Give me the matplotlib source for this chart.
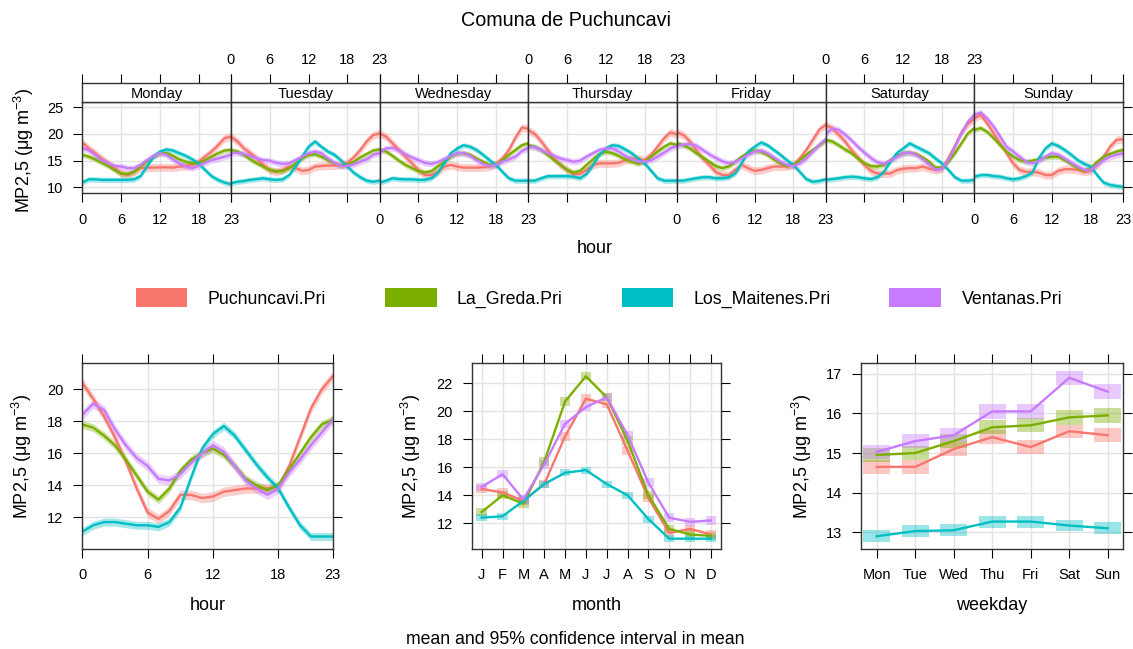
import numpy as np
import matplotlib.pyplot as plt
from matplotlib.patches import Patch

plt.rcParams['font.family'] = ['Liberation Sans', 'DejaVu Sans']
plt.rcParams['mathtext.fontset'] = 'custom'
plt.rcParams['mathtext.rm'] = 'Liberation Sans'
plt.rcParams['mathtext.it'] = 'Liberation Sans:italic'

sites = ["Puchuncavi.Pri", "La_Greda.Pri", "Los_Maitenes.Pri", "Ventanas.Pri"]
colors = ["#F8766D", "#7CAE00", "#00BFC4", "#C77CFF"]
days = ["Monday", "Tuesday", "Wednesday", "Thursday", "Friday", "Saturday", "Sunday"]
hours = np.arange(24)

# hour x weekday means, one row per day (Mon..Sun)
week_puchuncavi = [
    [18.4, 17.3, 16.4, 15.4, 14.5, 13.6, 12.6, 12.3, 12.9, 13.6, 13.7, 13.7, 13.75, 13.75, 13.7, 13.9, 14.0, 14.2, 14.8, 15.75, 16.7, 17.9, 19.2, 19.5],
    [19.5, 18.6, 17.3, 16.4, 15.4, 14.2, 13.25, 12.9, 13.25, 13.9, 13.6, 13.1, 13.25, 13.9, 14.0, 14.1, 14.1, 14.2, 14.6, 15.6, 17.0, 18.6, 19.8, 20.1],
    [20.1, 19.5, 18.25, 17.0, 15.75, 14.5, 13.25, 12.3, 12.3, 12.9, 13.9, 14.2, 13.9, 13.7, 13.7, 13.7, 13.75, 13.9, 14.4, 15.4, 17.0, 19.3, 21.2, 21.0],
    [20.7, 20.0, 18.6, 17.0, 15.4, 14.2, 13.25, 12.5, 12.5, 13.25, 14.2, 14.5, 14.5, 14.5, 14.6, 15.1, 15.4, 15.4, 15.1, 16.1, 17.6, 19.2, 20.3, 19.9],
    [20.3, 19.8, 18.6, 17.0, 15.4, 14.2, 12.9, 12.3, 12.3, 13.25, 14.2, 13.6, 13.1, 13.25, 13.6, 13.9, 13.9, 13.9, 14.2, 15.4, 17.0, 18.9, 20.8, 21.7],
    [21.7, 21.1, 19.9, 18.6, 17.0, 15.6, 14.2, 13.1, 12.6, 12.6, 12.6, 13.2, 13.5, 13.6, 13.6, 13.9, 13.5, 13.25, 13.5, 15.5, 17.8, 20.3, 21.9, 22.9],
    [22.9, 23.6, 22.0, 20.1, 18.25, 16.4, 14.5, 13.25, 12.9, 12.9, 12.75, 12.3, 12.3, 13.1, 13.4, 13.4, 13.25, 12.9, 13.1, 14.2, 15.75, 17.6, 18.9, 19.0],
]
week_lagreda = [
    [16.1, 15.75, 15.25, 14.6, 14.0, 13.25, 12.6, 12.5, 12.9, 13.9, 14.9, 15.75, 16.4, 16.4, 15.9, 15.25, 14.8, 14.5, 14.5, 15.1, 15.75, 16.4, 16.9, 17.0],
    [17.0, 16.7, 16.1, 15.25, 14.5, 13.9, 13.25, 13.05, 13.05, 13.6, 14.5, 15.4, 16.1, 16.2, 15.75, 15.1, 14.5, 14.05, 14.2, 14.8, 15.6, 16.25, 16.9, 17.1],
    [17.1, 16.7, 15.9, 15.0, 14.2, 13.6, 13.05, 12.8, 13.05, 13.9, 14.8, 15.75, 16.4, 16.4, 16.1, 15.4, 14.8, 14.2, 14.2, 15.1, 16.1, 17.0, 17.9, 18.25],
    [17.9, 17.6, 17.0, 16.1, 15.1, 14.2, 13.25, 12.75, 13.1, 14.2, 15.25, 16.25, 16.7, 16.4, 15.9, 15.25, 14.8, 14.4, 14.8, 15.75, 16.7, 17.6, 18.25, 17.9],
    [18.25, 17.9, 17.3, 16.4, 15.6, 14.8, 14.0, 13.6, 13.9, 14.8, 15.75, 16.5, 16.9, 16.7, 16.1, 15.25, 14.5, 14.0, 14.2, 15.1, 16.1, 17.0, 17.9, 18.75],
    [18.9, 18.6, 17.9, 17.1, 16.4, 15.4, 14.5, 14.0, 13.9, 14.2, 15.1, 15.9, 16.4, 16.5, 16.25, 15.6, 14.8, 13.7, 13.7, 14.8, 16.4, 18.25, 20.1, 21.1],
    [20.75, 21.1, 20.4, 19.2, 17.9, 16.7, 15.75, 15.1, 14.8, 15.0, 15.25, 15.6, 15.75, 15.75, 15.1, 14.4, 13.6, 13.1, 13.6, 14.8, 15.75, 16.25, 16.7, 17.0],
]
week_maitenes = [
    [10.9, 11.5, 11.5, 11.4, 11.4, 11.4, 11.4, 11.4, 11.5, 12.1, 13.9, 15.75, 16.7, 17.1, 16.9, 16.4, 15.9, 15.25, 14.5, 13.25, 12.1, 11.4, 10.9, 10.6],
    [10.75, 11.05, 11.2, 11.4, 11.55, 11.7, 11.5, 11.4, 11.5, 12.3, 13.9, 15.75, 17.6, 18.6, 17.6, 16.7, 16.1, 15.1, 13.9, 12.75, 11.9, 11.25, 11.05, 11.25],
    [10.9, 11.25, 11.7, 11.55, 11.5, 11.5, 11.4, 11.4, 11.7, 12.75, 14.5, 16.4, 17.3, 17.9, 17.6, 17.0, 16.1, 15.1, 14.2, 12.9, 11.7, 11.25, 11.25, 11.25],
    [11.25, 11.25, 11.7, 12.1, 12.1, 12.1, 12.1, 12.0, 11.7, 12.5, 14.2, 16.1, 17.3, 17.9, 17.75, 17.1, 16.4, 15.4, 14.5, 13.1, 11.7, 11.25, 11.25, 11.25],
    [11.25, 11.25, 11.5, 11.7, 11.9, 11.9, 11.7, 11.7, 11.9, 12.6, 14.5, 16.7, 17.6, 18.4, 17.9, 17.0, 16.1, 15.1, 14.2, 12.9, 11.55, 11.05, 11.2, 11.5],
    [11.4, 11.55, 11.7, 11.9, 12.0, 11.9, 11.7, 11.55, 11.9, 12.9, 14.8, 16.4, 17.3, 18.25, 17.6, 17.0, 16.4, 15.4, 14.5, 13.25, 11.9, 11.25, 11.25, 11.4],
    [12.0, 12.3, 12.3, 12.1, 12.0, 11.7, 11.5, 11.7, 12.1, 12.8, 15.5, 17.3, 18.25, 17.75, 17.0, 16.1, 15.1, 14.4, 13.9, 12.3, 10.9, 10.45, 10.25, 10.1],
]
week_ventanas = [
    [17.3, 17.0, 16.1, 15.1, 14.5, 14.0, 13.9, 13.6, 13.6, 14.2, 15.1, 15.9, 16.4, 16.1, 15.25, 14.5, 13.9, 13.6, 14.0, 14.6, 15.1, 15.4, 15.75, 16.1],
    [16.4, 16.5, 16.25, 15.9, 15.4, 15.1, 15.0, 14.6, 14.4, 14.5, 15.1, 15.75, 16.4, 16.7, 16.4, 15.4, 14.6, 14.0, 14.0, 14.3, 14.8, 15.25, 16.1, 16.4],
    [16.6, 17.3, 17.4, 16.9, 16.2, 15.6, 15.1, 14.6, 14.4, 14.7, 15.3, 15.9, 16.4, 16.4, 15.9, 15.1, 14.4, 14.0, 14.2, 14.8, 15.25, 15.75, 16.8, 17.4],
    [17.6, 17.5, 17.0, 16.4, 15.9, 15.4, 15.1, 14.8, 15.0, 15.75, 16.4, 17.0, 17.3, 17.3, 16.7, 15.9, 15.25, 14.8, 14.8, 15.1, 15.75, 16.5, 17.3, 17.75],
    [17.8, 18.0, 18.1, 17.8, 17.0, 16.2, 15.5, 14.9, 14.5, 14.8, 15.4, 16.1, 16.7, 16.9, 16.4, 15.6, 14.8, 14.2, 14.0, 14.5, 15.4, 16.7, 18.0, 19.0],
    [20.0, 21.0, 20.8, 19.9, 18.8, 17.6, 16.5, 15.5, 14.7, 14.4, 15.0, 15.7, 16.4, 16.5, 16.1, 15.3, 14.3, 13.3, 13.5, 15.1, 17.6, 20.1, 22.3, 23.6],
    [23.6, 24.0, 22.9, 21.4, 19.5, 17.6, 16.7, 15.75, 14.8, 14.5, 15.0, 15.75, 16.4, 16.1, 15.4, 14.6, 13.9, 13.25, 13.25, 14.2, 15.1, 15.75, 16.1, 16.4],
]
week_ci = [0.75, 0.5, 0.5, 0.6]

# diurnal means
hour_puchuncavi = [20.4, 19.4, 18.3, 17.0, 15.5, 13.8, 12.3, 11.9, 12.4, 13.4, 13.4, 13.2, 13.3, 13.6, 13.7, 13.8, 13.8, 13.8, 13.9, 15.2, 17.0, 18.8, 20.0, 20.8]
hour_lagreda = [17.8, 17.6, 17.1, 16.5, 15.6, 14.6, 13.6, 13.1, 13.8, 14.9, 15.6, 16.0, 16.3, 15.9, 15.2, 14.4, 14.0, 13.7, 14.0, 15.0, 16.0, 17.0, 17.8, 18.1]
hour_maitenes = [11.1, 11.5, 11.7, 11.7, 11.6, 11.5, 11.5, 11.4, 11.7, 12.6, 14.5, 16.3, 17.2, 17.7, 17.1, 16.2, 15.3, 14.5, 13.8, 12.6, 11.5, 10.8, 10.8, 10.8]
hour_ventanas = [18.4, 19.1, 18.7, 17.5, 16.5, 15.7, 15.2, 14.4, 14.3, 14.7, 15.4, 16.0, 16.5, 16.1, 15.2, 14.3, 13.8, 13.4, 13.8, 14.8, 15.6, 16.5, 17.3, 18.1]
hour_ci = [0.3, 0.25, 0.25, 0.3]

# monthly means
month_labels = ["J", "F", "M", "A", "M", "J", "J", "A", "S", "O", "N", "D"]
month_puchuncavi = [14.45, 14.2, 13.6, 14.8, 18.2, 20.9, 20.5, 17.2, 13.8, 11.3, 11.6, 11.2]
month_lagreda = [12.8, 14.0, 13.4, 16.4, 20.7, 22.5, 21.0, 17.9, 14.0, 11.6, 11.2, 11.1]
month_maitenes = [12.4, 12.5, 13.6, 14.8, 15.6, 15.8, 14.8, 14.0, 12.3, 10.9, 10.9, 10.9]
month_ventanas = [14.6, 15.5, 13.7, 16.2, 19.1, 20.3, 21.0, 18.3, 14.9, 12.4, 12.1, 12.2]
month_ci = [0.3, 0.3, 0.25, 0.3]

# weekday means
weekday_labels = ["Mon", "Tue", "Wed", "Thu", "Fri", "Sat", "Sun"]
weekday_puchuncavi = [14.65, 14.65, 15.1, 15.4, 15.15, 15.55, 15.45]
weekday_lagreda = [14.95, 15.0, 15.3, 15.65, 15.7, 15.9, 15.95]
weekday_maitenes = [12.9, 13.03, 13.05, 13.27, 13.27, 13.17, 13.1]
weekday_ventanas = [15.03, 15.3, 15.45, 16.05, 16.05, 16.9, 16.55]
weekday_ci = [0.17, 0.18, 0.15, 0.18]

week = [week_puchuncavi, week_lagreda, week_maitenes, week_ventanas]
hourly = [hour_puchuncavi, hour_lagreda, hour_maitenes, hour_ventanas]
monthly = [month_puchuncavi, month_lagreda, month_maitenes, month_ventanas]
weekday = [weekday_puchuncavi, weekday_lagreda, weekday_maitenes, weekday_ventanas]

W, H = 1133, 649
fig = plt.figure(figsize=(W / 100, H / 100), dpi=100)
ylab = "MP2,5 (μg m$^{-3}$)"
grid_col = "#E3E3E3"
frame_col = "#333333"
tick_kw = dict(direction="out", length=6.5, width=0.8, labelsize=10.5, colors="black")


def box(x0, y0, x1, y1):
    return [x0 / W, 1 - y1 / H, (x1 - x0) / W, (y1 - y0) / H]


def frame(ax):
    for sp in ax.spines.values():
        sp.set_color(frame_col)
        sp.set_linewidth(1.0)


# top row: hour by weekday
pw = (1123.0 - 82.3) / 7
for d in range(7):
    x0 = 82.3 + d * pw
    ax = fig.add_axes(box(x0, 101.7, x0 + pw, 192.7))
    strip = fig.add_axes(box(x0, 83.3, x0 + pw, 101.7))
    for s in range(4):
        y = np.array(week[s][d])
        ax.fill_between(hours, y - week_ci[s], y + week_ci[s], color=colors[s], alpha=0.35, lw=0)
        ax.plot(hours, y, color=colors[s], lw=1.7)
    ax.set_xlim(0, 23)
    ax.set_ylim(9.0, 26.05)
    ax.set_xticks([0, 6, 12, 18, 23])
    ax.set_yticks([10, 15, 20, 25])
    ax.grid(color=grid_col, lw=1.0)
    ax.set_axisbelow(True)
    ax.tick_params(axis="x", pad=8, labelbottom=(d % 2 == 0), **tick_kw)
    ax.tick_params(axis="y", pad=7, left=(d == 0), labelleft=(d == 0), right=(d == 6), labelright=False, **tick_kw)
    frame(ax)

    strip.set_xlim(0, 23)
    strip.set_yticks([])
    strip.set_xticks([0, 6, 12, 18, 23])
    strip.xaxis.set_ticks_position("top")
    strip.tick_params(axis="x", pad=5, labeltop=(d % 2 == 1), **tick_kw)
    strip.text(11.5, 0.42, days[d], ha="center", va="center", fontsize=10.5,
               transform=strip.get_xaxis_transform())
    frame(strip)

fig.text(24 / W, 1 - 150 / H, ylab, rotation=90, ha="center", va="center", fontsize=13)
fig.text(595 / W, 1 - 249 / H, "hour", ha="center", va="center", fontsize=13)

# legend
handles = [Patch(facecolor=c, edgecolor="none") for c in colors]
fig.legend(handles, sites, loc="center", bbox_to_anchor=(599 / W, 1 - 298 / H), ncol=4,
           frameon=False, fontsize=12.8, handlelength=2.9, handleheight=1.25,
           handletextpad=1.15, columnspacing=3.3)

bottom_kw = dict(direction="out", length=6.5, width=0.8, labelsize=10.5, pad=7,
                 top=True, right=True, labeltop=False, labelright=False)

# diurnal panel
ax = fig.add_axes(box(82.3, 362.7, 332.7, 549.3))
for s in range(4):
    y = np.array(hourly[s])
    ax.fill_between(hours, y - hour_ci[s], y + hour_ci[s], color=colors[s], alpha=0.35, lw=0)
    ax.plot(hours, y, color=colors[s], lw=1.7)
ax.set_xlim(0, 23)
ax.set_ylim(10.0, 21.66)
ax.set_xticks([0, 6, 12, 18, 23])
ax.set_yticks([12, 14, 16, 18, 20])
ax.grid(color=grid_col, lw=1.0)
ax.set_axisbelow(True)
ax.tick_params(**bottom_kw)
frame(ax)

# monthly panel
months = np.arange(1, 13)
ax = fig.add_axes(box(471.7, 362.7, 720.7, 549.3))
for s in range(4):
    y = np.array(monthly[s])
    ax.bar(months, 2 * month_ci[s], bottom=y - month_ci[s], width=0.5, color=colors[s], alpha=0.4, lw=0)
    ax.plot(months, y, color=colors[s], lw=1.7)
ax.set_xlim(0.52, 12.47)
ax.set_ylim(10.14, 23.47)
ax.set_xticks(months)
ax.set_xticklabels(month_labels)
ax.set_yticks([12, 14, 16, 18, 20, 22])
ax.grid(color=grid_col, lw=1.0)
ax.set_axisbelow(True)
ax.tick_params(**bottom_kw)
frame(ax)

# weekday panel
wd = np.arange(1, 8)
ax = fig.add_axes(box(860.7, 362.7, 1123.3, 549.3))
for s in range(4):
    y = np.array(weekday[s])
    ax.bar(wd, 2 * weekday_ci[s], bottom=y - weekday_ci[s], width=0.7, color=colors[s], alpha=0.4, lw=0)
    ax.plot(wd, y, color=colors[s], lw=1.7)
ax.set_xlim(0.584, 7.405)
ax.set_ylim(12.57, 17.28)
ax.set_xticks(wd)
ax.set_xticklabels(weekday_labels)
ax.set_yticks([13, 14, 15, 16, 17])
ax.grid(color=grid_col, lw=1.0)
ax.set_axisbelow(True)
ax.tick_params(**bottom_kw)
frame(ax)

for xc in (22, 411, 802):
    fig.text(xc / W, 1 - 456 / H, ylab, rotation=90, ha="center", va="center", fontsize=13)
for xc, lab in ((208, "hour"), (597, "month"), (992, "weekday")):
    fig.text(xc / W, 1 - 606 / H, lab, ha="center", va="center", fontsize=13)

fig.text(566 / W, 1 - 20 / H, "Comuna de Puchuncavi", ha="center", va="center", fontsize=14.2)
fig.text(575 / W, 1 - 640 / H, "mean and 95% confidence interval in mean", ha="center", va="center", fontsize=12.7)

fig.savefig("out.png", dpi=100)
